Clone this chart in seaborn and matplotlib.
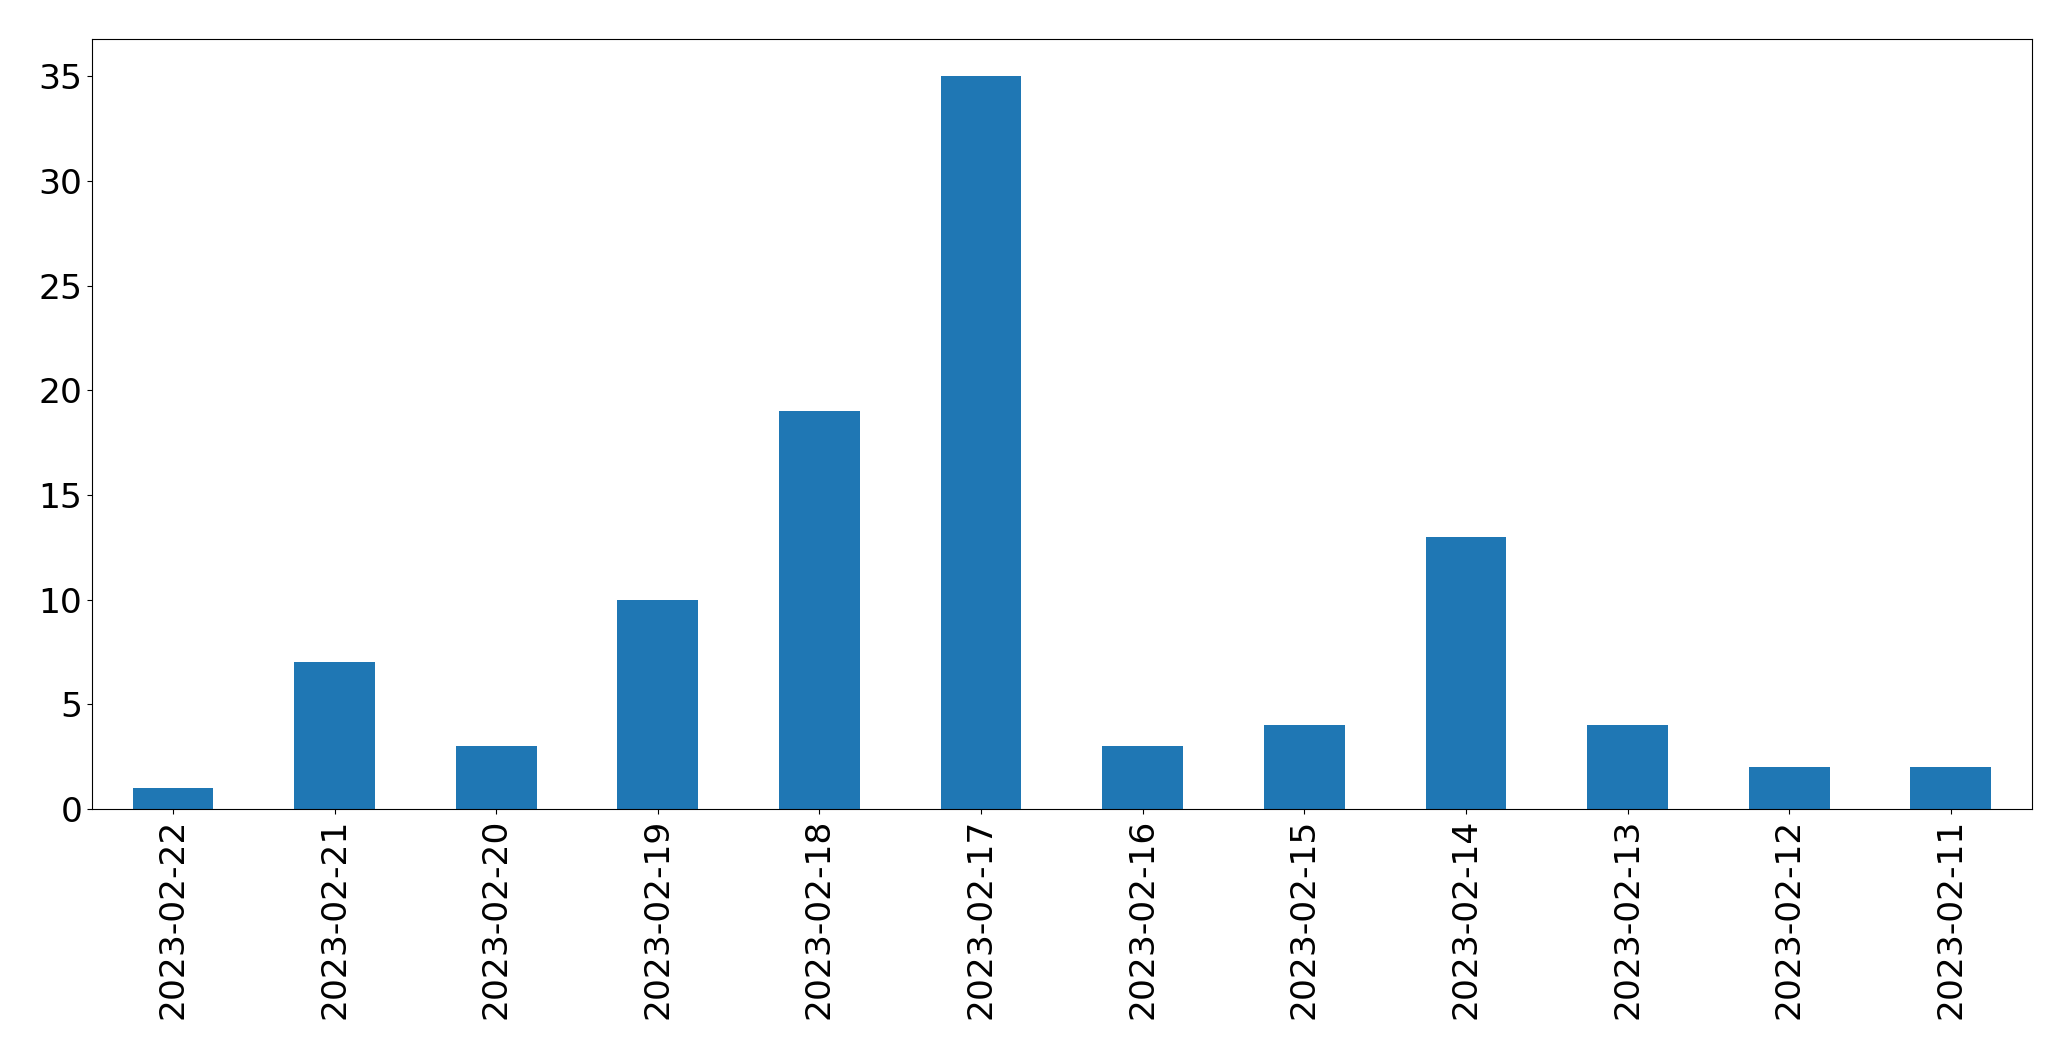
import matplotlib
matplotlib.use("Agg")
import matplotlib.pyplot as plt
import seaborn as sns
import pandas as pd

dates = [
    "2023-02-22", "2023-02-21", "2023-02-20", "2023-02-19",
    "2023-02-18", "2023-02-17", "2023-02-16", "2023-02-15",
    "2023-02-14", "2023-02-13", "2023-02-12", "2023-02-11",
]
counts = [1, 7, 3, 10, 19, 35, 3, 4, 13, 4, 2, 2]

df = pd.DataFrame({"date": dates, "count": counts})

plt.rcParams["font.family"] = ["DejaVu Sans"]

fig, ax = plt.subplots(figsize=(20.71, 10.61), dpi=100)
sns.barplot(data=df, x="date", y="count", order=dates, color="#1f77b4",
            saturation=1, width=0.5, linewidth=0, ax=ax)

ax.set_xlabel("")
ax.set_ylabel("")
ax.set_xlim(-0.5, len(dates) - 0.5)
ax.set_ylim(0, max(counts) * 1.05)
ax.tick_params(axis="both", labelsize=24.8, length=3.5, width=0.8, colors="black")
ax.tick_params(axis="x", rotation=90)
for spine in ax.spines.values():
    spine.set_color("black")
    spine.set_linewidth(0.8)

fig.subplots_adjust(left=0.0445, right=0.981, top=0.9628, bottom=0.2375)
fig.savefig("out.png", dpi=100)
